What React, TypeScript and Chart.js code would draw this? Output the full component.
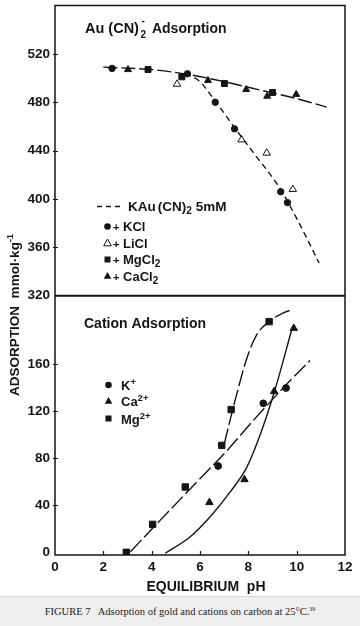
import React, { useEffect, useRef } from 'react';
import { Chart, registerables } from 'chart.js';

Chart.register(...registerables);

// ---- tick labels ----
const xTicks = [0, 2, 4, 6, 8, 10, 12];
const yTopTicks = [320, 360, 400, 440, 480, 520];
const yBotTicks = [0, 40, 80, 120, 160];

// ---- upper panel: Au(CN)2- adsorption (mmol/kg) vs equilibrium pH ----
const kclPH = [2.36, 5.48, 6.63, 7.43, 9.34, 9.62];
const kclAu = [508, 503.5, 480, 458, 406, 397];
const liclPH = [5.05, 7.72, 8.76, 9.84];
const liclAu = [495, 449, 438, 408];
const mgcl2PH = [3.85, 5.25, 7.01, 9.0];
const mgcl2Au = [507, 501, 495.5, 488];
const cacl2PH = [3.02, 6.33, 7.91, 8.78, 9.98];
const cacl2Au = [507, 498, 490.5, 485, 486.5];
const divCurvePH = [2.0, 4.0, 5.5, 7.0, 8.5, 10.0, 11.24];
const divCurveAu = [509, 507, 503, 497, 490, 483, 476];
const monoCurvePH = [5.4, 6.0, 6.63, 7.43, 8.3, 9.3, 10.0, 10.93];
const monoCurveAu = [504, 497, 481, 459, 436, 409, 384, 347];

// ---- lower panel: cation adsorption ----
const kPH = [6.75, 8.62, 9.56];
const kAds = [73.5, 126.7, 139.7];
const caPH = [6.39, 7.84, 9.07, 9.88];
const caAds = [42.6, 62, 136.8, 190.4];
const mgPH = [2.95, 4.04, 5.39, 6.9, 7.29, 8.86];
const mgAds = [0.3, 24, 55.7, 91, 121.4, 196];
const kCurvePH = [3.12, 4.36, 5.73, 7.18, 8.2, 9.73, 10.55];
const kCurveAds = [0.8, 27.6, 57, 88, 112, 146, 163];
const mgCurvePH = [7.0, 7.45, 7.94, 8.35, 8.86, 9.45, 9.86];
const mgCurveAds = [92, 129, 165, 185, 196, 203.5, 206.5];
const caCurvePH = [4.56, 5.6, 6.42, 7.25, 7.94, 8.49, 9.1, 9.8];
const caCurveAds = [-0.5, 13.5, 30.4, 51.5, 72.6, 100, 138, 189.5];

const INK = '#151515';
const FONT = "'Liberation Sans', Arial, sans-serif";

const pts = (xs: number[], ys: number[]) => xs.map((v, i) => ({ x: v, y: ys[i] }));

const markers = (xs: number[], ys: number[], style: string, r: number, fill: string, axis: string) => ({
  data: pts(xs, ys),
  yAxisID: axis,
  pointStyle: style,
  pointRadius: r,
  pointBackgroundColor: fill,
  pointBorderColor: INK,
  pointBorderWidth: 1,
  showLine: false,
});

const curve = (xs: number[], ys: number[], dash: number[], axis: string) => ({
  data: pts(xs, ys),
  yAxisID: axis,
  showLine: true,
  borderColor: INK,
  borderWidth: 1.4,
  borderDash: dash,
  pointRadius: 0,
  fill: false,
  cubicInterpolationMode: 'monotone',
});

function drawMarker(ctx: CanvasRenderingContext2D, kind: string, x: number, y: number) {
  ctx.beginPath();
  if (kind === 'circle') {
    ctx.arc(x, y, 3.3, 0, Math.PI * 2);
    ctx.fillStyle = INK;
    ctx.fill();
  } else if (kind === 'square') {
    ctx.rect(x - 3, y - 3, 6, 6);
    ctx.fillStyle = INK;
    ctx.fill();
  } else {
    ctx.moveTo(x, y - 4);
    ctx.lineTo(x + 3.8, y + 2.8);
    ctx.lineTo(x - 3.8, y + 2.8);
    ctx.closePath();
    if (kind === 'open') {
      ctx.lineWidth = 1;
      ctx.strokeStyle = INK;
      ctx.stroke();
    } else {
      ctx.fillStyle = INK;
      ctx.fill();
    }
  }
}

// draws a sequence of text runs [text, size, dy]
function runs(ctx: CanvasRenderingContext2D, x: number, y: number, parts: [string, number, number][]) {
  let cx = x;
  for (const [t, size, dy] of parts) {
    ctx.font = `bold ${size}px ${FONT}`;
    ctx.fillText(t, cx, y + dy);
    cx += ctx.measureText(t).width;
  }
  return cx;
}

const overlay = {
  id: 'overlay',
  afterDatasetsDraw(chart: any) {
    const { ctx, chartArea: a, scales } = chart;
    const yT = scales.yTop;
    const yB = scales.yBot;
    const xs = scales.x;
    ctx.save();
    ctx.strokeStyle = INK;
    // frame
    ctx.lineWidth = 1.5;
    ctx.strokeRect(a.left, a.top, a.right - a.left, a.bottom - a.top);
    ctx.lineWidth = 2;
    ctx.beginPath();
    ctx.moveTo(a.left, yT.bottom);
    ctx.lineTo(a.right, yT.bottom);
    ctx.stroke();
    // tick marks
    ctx.lineWidth = 1.2;
    ctx.beginPath();
    for (const v of xTicks.slice(1, -1)) {
      const px = Math.round(xs.getPixelForValue(v)) + 0.5;
      ctx.moveTo(px, a.bottom);
      ctx.lineTo(px, a.bottom - 4);
    }
    for (const v of yTopTicks.slice(1)) {
      const py = Math.round(yT.getPixelForValue(v)) + 0.5;
      ctx.moveTo(a.left - 2, py);
      ctx.lineTo(a.left + 3, py);
    }
    for (const v of yBotTicks.slice(1)) {
      const py = Math.round(yB.getPixelForValue(v)) + 0.5;
      ctx.moveTo(a.left - 2, py);
      ctx.lineTo(a.left + 3, py);
    }
    ctx.stroke();

    ctx.fillStyle = INK;
    ctx.textAlign = 'left';
    ctx.textBaseline = 'alphabetic';
    // panel titles
    let cx = runs(ctx, 85, 33, [['Au', 14.5, 0]]);
    cx = runs(ctx, cx + 4, 33, [['(CN)', 14.5, 0]]);
    ctx.font = `bold 10px ${FONT}`;
    ctx.fillText('2', cx + 1.5, 37.5);
    ctx.fillText('-', cx + 2.5, 23.5);
    runs(ctx, cx + 13, 33, [['Adsorption', 14, 0]]);
    runs(ctx, 84, 327.5, [['Cation Adsorption', 14, 0]]);

    // upper legend
    ctx.lineWidth = 1.3;
    ctx.setLineDash([5, 4]);
    ctx.beginPath();
    ctx.moveTo(97, 206.5);
    ctx.lineTo(123, 206.5);
    ctx.stroke();
    ctx.setLineDash([]);
    let lx = runs(ctx, 128, 211, [['KAu', 13.5, 0]]);
    lx = runs(ctx, lx + 2, 211, [['(CN)', 13.5, 0], ['2', 10, 3]]);
    runs(ctx, lx + 4, 211, [['5mM', 13.5, 0]]);
    const rows: [string, string, number][] = [
      ['circle', 'KCl', 226.5],
      ['open', 'LiCl', 243],
      ['square', 'MgCl', 259.5],
      ['triangle', 'CaCl', 276],
    ];
    for (const [k, label, y] of rows) {
      drawMarker(ctx, k, 107.5, y);
      ctx.fillStyle = INK;
      const end = runs(ctx, 113, y + 4.5, [['+', 11, 0], [' ' + label, 13, 0]]);
      if (label === 'MgCl' || label === 'CaCl') {
        ctx.font = `bold 10px ${FONT}`;
        ctx.fillText('2', end, y + 7.5);
      }
    }
    // lower legend
    const rows2: [string, string, string, number][] = [
      ['circle', 'K', '+', 385],
      ['triangle', 'Ca', '2+', 401],
      ['square', 'Mg', '2+', 418.5],
    ];
    for (const [k, label, sup, y] of rows2) {
      drawMarker(ctx, k, 108.5, y);
      ctx.fillStyle = INK;
      runs(ctx, 121, y + 5, [[label, 13, 0], [sup, 9.5, -5]]);
    }

    // y-axis title (rotated)
    ctx.save();
    ctx.translate(15, 315);
    ctx.rotate(-Math.PI / 2);
    ctx.textBaseline = 'middle';
    const parts: [string, number, number][] = [
      ['ADSORPTION', 13.5, 0],
      ['  mmol\u00b7kg', 13.5, 0],
      ['-1', 9, -4],
    ];
    let w = 0;
    for (const [t, s] of parts) {
      ctx.font = `bold ${s}px ${FONT}`;
      w += ctx.measureText(t).width;
    }
    runs(ctx, -w / 2, 0, parts);
    ctx.restore();

    // x-axis title
    ctx.font = `bold 14px ${FONT}`;
    ctx.textAlign = 'center';
    ctx.textBaseline = 'middle';
    ctx.fillText('EQUILIBRIUM  pH', 206, 587);
    ctx.restore();
  },
};

const fitY = (s: any) => {
  s.width = 55;
  s.paddingTop = 0;
  s.paddingBottom = 0;
};

export default function App() {
  const ref = useRef<HTMLCanvasElement | null>(null);
  useEffect(() => {
    if (!ref.current) return;
    const tickFont = { family: FONT, size: 13.5, weight: 'bold' as const };
    const chart = new Chart(ref.current, {
      type: 'scatter',
      data: {
        datasets: [
          curve(divCurvePH, divCurveAu, [14, 4], 'yTop'),
          curve(monoCurvePH, monoCurveAu, [6, 4], 'yTop'),
          markers(kclPH, kclAu, 'circle', 3.2, INK, 'yTop'),
          markers(liclPH, liclAu, 'triangle', 4.3, '#ffffff', 'yTop'),
          markers(mgcl2PH, mgcl2Au, 'rect', 4.2, INK, 'yTop'),
          markers(cacl2PH, cacl2Au, 'triangle', 4.0, INK, 'yTop'),
          curve(kCurvePH, kCurveAds, [16, 4], 'yBot'),
          curve(mgCurvePH, mgCurveAds, [16, 4], 'yBot'),
          curve(caCurvePH, caCurveAds, [], 'yBot'),
          markers(kPH, kAds, 'circle', 3.4, INK, 'yBot'),
          markers(caPH, caAds, 'triangle', 4.3, INK, 'yBot'),
          markers(mgPH, mgAds, 'rect', 4.5, INK, 'yBot'),
        ] as any,
      },
      options: {
        animation: false,
        responsive: false,
        events: [],
        layout: { padding: { top: 4, right: 15, left: 0, bottom: 0 } },
        plugins: { legend: { display: false }, tooltip: { enabled: false }, title: { display: false } },
        scales: {
          x: {
            type: 'linear',
            min: 0,
            max: 12,
            afterBuildTicks: (s: any) => { s.ticks = xTicks.map((v) => ({ value: v })); },
            afterFit: (s: any) => { s.height = 41; },
            grid: { display: false, drawTicks: false },
            border: { display: false },
            ticks: { font: tickFont, color: INK, padding: 4, maxRotation: 0, autoSkip: false },
          },
          yBot: {
            type: 'linear',
            position: 'left',
            stack: 'adsorption',
            stackWeight: 260,
            min: -2,
            max: 218,
            afterBuildTicks: (s: any) => { s.ticks = yBotTicks.map((v) => ({ value: v })); },
            afterFit: fitY,
            grid: { display: false, drawTicks: false },
            border: { display: false },
            ticks: { font: tickFont, color: INK, padding: 5, autoSkip: false },
          },
          yTop: {
            type: 'linear',
            position: 'left',
            stack: 'adsorption',
            stackWeight: 291,
            min: 320,
            max: 560,
            afterBuildTicks: (s: any) => { s.ticks = yTopTicks.map((v) => ({ value: v })); },
            afterFit: fitY,
            grid: { display: false, drawTicks: false },
            border: { display: false },
            ticks: { font: tickFont, color: INK, padding: 5, autoSkip: false },
          },
        } as any,
      },
      plugins: [overlay],
    });
    return () => chart.destroy();
  }, []);

  return (
    <div style={{ position: 'absolute', left: 0, top: 0, width: 360, height: 626, background: '#ffffff' }}>
      <canvas ref={ref} width={360} height={596} style={{ display: 'block', width: 360, height: 596 }} />
      <div
        style={{
          position: 'absolute',
          left: 0,
          top: 596,
          width: 360,
          height: 30,
          boxSizing: 'border-box',
          background: '#efefef',
          borderTop: '1px solid #d8d8d8',
          fontFamily: "'Liberation Serif', 'Times New Roman', serif",
          fontSize: 10.5,
          color: '#222',
          textAlign: 'center',
          lineHeight: '30px',
          whiteSpace: 'pre',
        }}
      >
        {'FIGURE 7   Adsorption of gold and cations on carbon at 25\u00b0C.'}
        <sup style={{ fontSize: 6, lineHeight: 0 }}>39</sup>
      </div>
    </div>
  );
}
